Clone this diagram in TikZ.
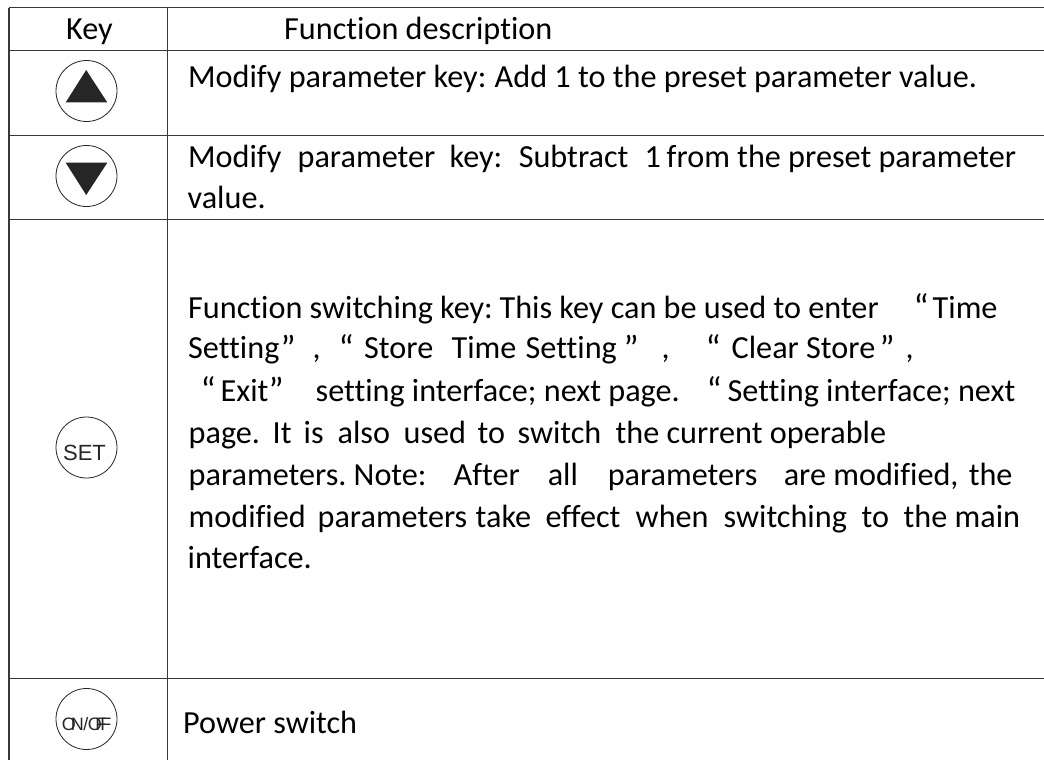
\documentclass[tikz,border=0pt]{standalone}
\usepackage{fontspec}
\setmainfont[Ligatures={NoCommon}]{Carlito}
\newfontfamily\keyfont{Liberation Sans}
\tikzset{
  rule/.style={draw=black!78, line width=1.3pt},
  keyring/.style={circle, draw=black!85, line width=0.8pt, minimum size=61pt, inner sep=0pt},
  txt/.style={anchor=base west, inner sep=0pt, font=\fontsize{32.2}{38}\selectfont, text=black},
  keylabel/.style={anchor=base, inner sep=0pt, text=black!85},
  glyph/.style={fill=black!85, draw=none},
}
\newcommand{\at}[2]{\rlap{\hskip#1pt\relax #2}}
\newcommand{\qat}[2]{\rlap{\hskip#1pt\relax\raisebox{-1.5pt}{\fontsize{36}{38}\selectfont #2}}}
\begin{document}
\begin{tikzpicture}[x=1pt,y=-1pt]
\useasboundingbox (0,0) rectangle (1044,760);
\fill[white] (0,0) rectangle (1044,760);
% grid
\coordinate (tl) at (9,7.7); \coordinate (tm) at (167.7,7.7);
\coordinate (bl) at (9,760); \coordinate (bm) at (167.7,760);
\draw[rule] (tl) -- (bl);
\draw[rule] (tm) -- (bm);
\foreach \y in {7.7,50.7,135.5,219.4,678.8}{
  \draw[rule] (9,\y) -- (1044,\y);
}
% keys
\node[keyring] (k1) at (86.5,91) {};
\fill[glyph] (86.2,70) -- (107.3,102.4) -- (65.7,102.4) -- cycle;
\node[keyring] (k2) at (86.5,176) {};
\fill[glyph] (65.7,162.7) -- (107.3,162.7) -- (86.2,195) -- cycle;
\node[keyring] (k3) at (86.5,447.5) {};
\node[keylabel, font=\keyfont\fontsize{22}{24}\selectfont] (k3t) at (84.5,460) {SET};
\node[keyring] (k4) at (86.5,719) {};
\node[keylabel, font=\keyfont\fontsize{18}{20}\selectfont] (k4t) at (86.5,730) {O\kern-5ptN\kern-.5pt/\kern-.5ptO\kern-6.5ptF\kern-6ptF};
% header
\node[txt] (h1) at (66,39.5) {Key};
\node[txt] (h2) at (284,39.5) {Function description};
% rows
\node[txt] (r1) at (0,87) {\at{187.5}{Modify parameter key:}\at{494}{Add 1 to the preset parameter value.}};
\node[txt] (r2a) at (0,167.5) {\at{187.5}{Modify}\at{297}{parameter}\at{449}{key:}\at{518}{Subtract}\at{644}{1}\at{666}{from the preset parameter}};
\node[txt] (r2b) at (187.5,208.5) {value.};
\node[txt] (s1) at (0,318) {\at{187.5}{Function switching key:}\at{499}{This key can be used to enter}\qat{913}{“}\at{932}{Time}};
\node[txt] (s2) at (0,358.5) {\at{187.5}{Setting}\qat{280}{”}\at{312}{,}\qat{338}{“}\at{363.5}{Store}\at{451}{Time}\at{525}{Setting}\qat{623}{”}\at{661}{,}\qat{705}{“}\at{731}{Clear Store}\qat{879}{”}\at{905}{,}};
\node[txt] (s3) at (0,401) {\qat{200}{“}\at{220}{Exit}\qat{268}{”}\at{315}{setting interface; next page.}\qat{706}{“}\at{727}{Setting interface; next}};
\node[txt] (s4) at (0,443) {\at{188}{page.}\at{272}{It}\at{303}{is}\at{337}{also}\at{403}{used}\at{477}{to}\at{517}{switch}\at{615}{the current operable}};
\node[txt] (s5) at (0,485) {\at{188}{parameters.}\at{353}{Note:}\at{453}{After}\at{547}{all}\at{607}{parameters}\at{783}{are modified,}\at{968}{the}};
\node[txt] (s6) at (0,527) {\at{188}{modified}\at{317}{parameters}\at{475}{take}\at{545}{effect}\at{635}{when}\at{723}{switching}\at{861}{to}\at{903}{the main}};
\node[txt] (s7) at (187.5,568) {interface.};
\node[txt] (p) at (183,733) {Power switch};
\end{tikzpicture}
\end{document}
